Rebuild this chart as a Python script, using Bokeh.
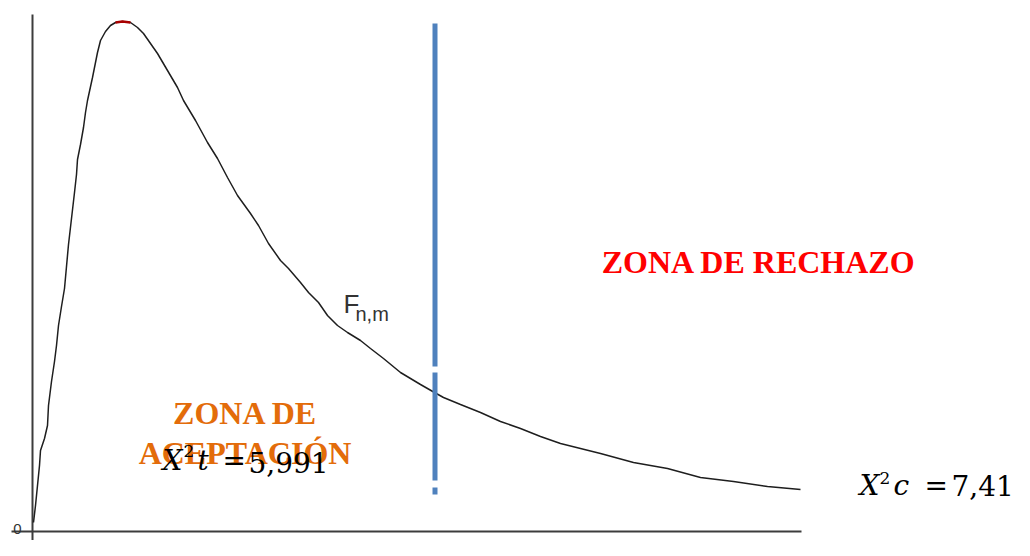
from bokeh.plotting import figure
from bokeh.models import Range1d
from bokeh.core.properties import value
from bokeh.embed import file_html
from bokeh.resources import INLINE

# ---- data (chart units: origin at the axes' corner) ----
curve_x = [1, 3, 5, 7, 8, 12, 15, 16, 19, 22, 24, 26, 29, 32, 34, 36, 39, 42, 44, 45, 48, 51, 53, 55,
           60, 65, 68, 73, 78, 83, 90, 98, 105, 111, 118, 125, 135, 145, 151, 163, 175, 185, 195, 205,
           218, 226, 236, 248, 256, 268, 276, 286, 295, 305, 315, 328, 338, 351, 368, 388, 402, 411,
           428, 448, 468, 488, 508, 528, 548, 568, 601, 635, 668, 701, 735, 768]
curve_y = [9, 26, 46, 66, 81, 93, 106, 126, 150, 170, 186, 206, 225, 243, 265, 287, 313, 339, 357, 372,
           387, 404, 419, 431, 454, 479, 491, 500, 506, 509, 510, 509, 504, 498, 488, 478, 461, 444, 431,
           411, 389, 373, 354, 336, 318, 306, 288, 271, 263, 249, 239, 229, 216, 206, 199, 191, 183, 173,
           159, 147, 139, 134, 127, 119, 110, 103, 95, 88, 83, 78, 69, 63, 54, 50, 45, 42]
peak_x = [83, 90, 98]
peak_y = [509, 510, 509]
crit_x = 402.5
crit_y0 = [37, 51, 165]
crit_y1 = [44, 159, 508]
axis_x_end = 769
axis_y_end = 517

p = figure(width=1014, height=540, output_backend="svg", toolbar_location=None,
           x_range=Range1d(-32, 982), y_range=Range1d(-9, 531), min_border=0)
p.axis.visible = False
p.grid.visible = False
p.outline_line_color = None
p.background_fill_color = "white"
p.border_fill_color = "white"

# axes lines
p.segment(x0=[0, -21], y0=[-9, 0], x1=[0, axis_x_end], y1=[axis_y_end, 0],
          line_color="#3c3c3c", line_width=2)

# curve
p.line(curve_x, curve_y, line_color="#1e1e1e", line_width=1.5)
p.line(peak_x, peak_y, line_color="#a80000", line_width=2.5)

# critical line
p.segment(x0=[crit_x] * 3, y0=crit_y0, x1=[crit_x] * 3, y1=crit_y1,
          line_color="#4f81bd", line_width=5)


def label(x, y, t, font, size, color="black", style="normal", align="left", baseline="alphabetic"):
    p.text(x=[x], y=[y], text=[t], text_font=value(font), text_font_size=value(size),
           text_color=color, text_font_style=style, text_align=align, text_baseline=baseline)


label(-15, 3, "0", "Liberation Sans", "15px", color="#333333", align="center")
label(311, 228, "F", "Liberation Sans", "26px", color="#333333")
label(323, 218, "n,m", "Liberation Sans", "20px", color="#333333")

label(726.5, 270, "ZONA DE RECHAZO", "Liberation Serif", "32px", color="#ff0000", style="bold", align="center")
label(213, 119, "ZONA DE", "Liberation Serif", "32px", color="#e36c0a", style="bold", align="center")
label(212.5, 79, "ACEPTACIÓN", "Liberation Serif", "32px", color="#e36c0a", style="bold", align="center")

# X^2 t = 5,991
label(130, 71, "X", "DejaVu Serif", "28px", style="italic")
label(151, 81, "2", "DejaVu Serif", "17px")
label(165, 71, "t", "DejaVu Serif", "28px", style="italic")
label(190, 71, "=", "DejaVu Serif", "28px")
label(216, 69, "5,991", "DejaVu Serif", "28px")

# X^2 c = 7,41 (kept inside the canvas)
label(827, 46, "X", "DejaVu Serif", "28px", style="italic")
label(847, 54, "2", "DejaVu Serif", "17px")
label(861, 46, "c", "DejaVu Serif", "28px", style="italic")
label(892, 46, "=", "DejaVu Serif", "28px")
label(919, 46, "7,41", "DejaVu Serif", "28px")

open("out.html", "w").write(file_html(p, INLINE))
